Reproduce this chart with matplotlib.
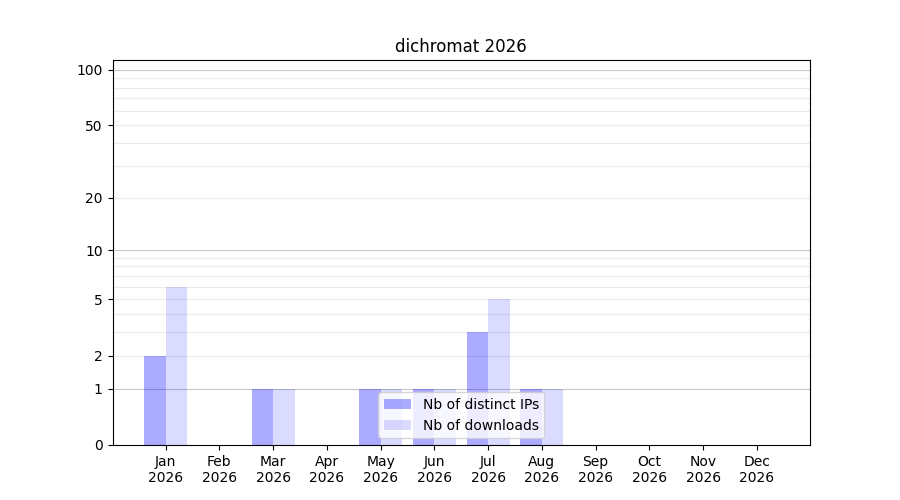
import numpy as np
import matplotlib
matplotlib.use("Agg")
import matplotlib.pyplot as plt

# monthly stats
months = ["Jan", "Feb", "Mar", "Apr", "May", "Jun",
          "Jul", "Aug", "Sep", "Oct", "Nov", "Dec"]
year = "2026"
distinct_ips = [2, 0, 1, 0, 1, 1, 3, 1, 0, 0, 0, 0]
downloads = [6, 0, 1, 0, 1, 1, 5, 1, 0, 0, 0, 0]

y_ticks = [0, 1, 2, 5, 10, 20, 50, 100]
major_grid = [1, 10, 100]
minor_grid = [2, 3, 4, 5, 6, 7, 8, 9, 20, 30, 40, 50, 60, 70, 80, 90]


def fwd(v):
    return np.log10(1 + np.clip(v, 0, None))


def inv(v):
    return 10 ** v - 1


x = np.arange(1, len(months) + 1)
width = 0.4

fig, ax = plt.subplots(figsize=(9, 5), dpi=100)
ax.set_yscale("function", functions=(fwd, inv))

for g in minor_grid:
    ax.axhline(g, color="#ebebeb", linewidth=0.8, zorder=0)
for g in major_grid:
    ax.axhline(g, color="#c8c8c8", linewidth=0.8, zorder=0)

ax.bar(x - width / 2, distinct_ips, width, color="blue", alpha=0.33,
       label="Nb of distinct IPs", zorder=2)
ax.bar(x + width / 2, downloads, width, color="blue", alpha=0.14,
       label="Nb of downloads", zorder=2)

ax.set_xticks(x)
ax.set_xticklabels([m + "\n" + year for m in months])
ax.set_yticks(y_ticks)
ax.set_yticklabels([str(t) for t in y_ticks])
ax.yaxis.set_minor_locator(matplotlib.ticker.NullLocator())
ax.set_ylim(0, 113)

ax.set_title("dichromat " + year)
ax.legend(loc="lower center")

plt.savefig("out.png")
